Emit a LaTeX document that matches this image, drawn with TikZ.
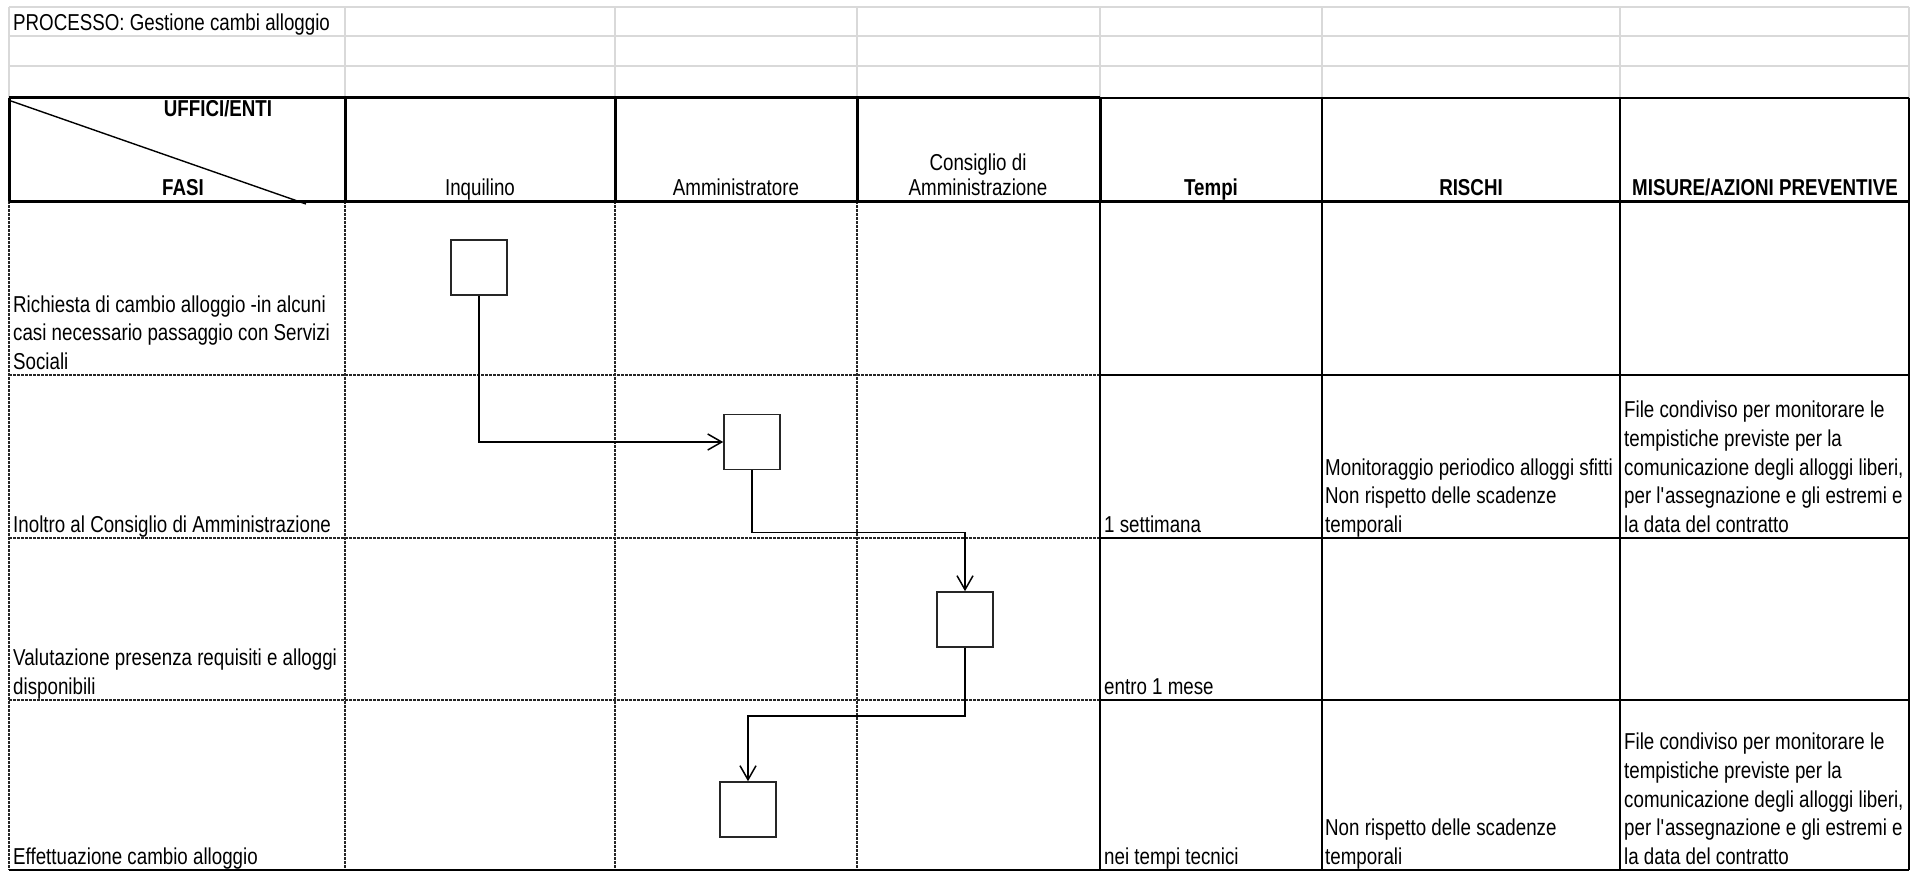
\documentclass[tikz,border=0pt]{standalone}
\usepackage{fontspec}
\setmainfont{Liberation Sans}[FakeStretch=0.815]
\usetikzlibrary{arrows.meta}
\newcommand\cf{\fontsize{23}{28.7}\selectfont}
\newcommand\ml[1]{\begin{tabular}[b]{@{}l@{}}#1\end{tabular}}
\begin{document}
\begin{tikzpicture}[x=1pt,y=-1pt,
  gridg/.style={draw=black!15, line width=2pt},
  thickln/.style={draw=black, line width=3pt},
  medln/.style={draw=black, line width=2pt},
  dashln/.style={draw=black!85, line width=1.2pt, dash pattern=on 2.5pt off 1.5pt},
  celltxt/.style={anchor=base west, inner sep=0pt, font=\cf},
  hdrtxt/.style={anchor=base, inner sep=0pt, font=\cf},
  hdrbold/.style={anchor=base, inner sep=0pt, font=\cf\bfseries},
  boxst/.style={draw=black!85, line width=1.6pt, fill=white, minimum width=56pt, minimum height=55pt, inner sep=0pt},
  arr/.style={draw=black, line width=1.5pt, -{Straight Barb[length=14pt,width=16pt]}}
]
\useasboundingbox (0,0) rectangle (1923,872);
\fill[white] (0,0) rectangle (1923,872);

% top gray grid
\foreach \yy in {7,36,66} {\draw[gridg] (9,\yy) -- (1909,\yy);}
\foreach \xx in {9,345,615,857,1100,1322,1620,1909} {\draw[gridg] (\xx,7) -- (\xx,98);}

% data grid (dashed part)
\foreach \xx in {9,345,615,857} {\draw[dashln] (\xx,201) -- (\xx,870);}
\foreach \yy in {375,538,700} {\draw[dashln] (9,\yy) -- (1100,\yy);}
% data grid (solid part)
\foreach \xx in {1100,1322,1620,1909} {\draw[medln] (\xx,201) -- (\xx,870);}
\foreach \yy in {375,538,700} {\draw[medln] (1100,\yy) -- (1909,\yy);}
\draw[medln] (9,870) -- (1909,870);

% header
\draw[thickln] (9,98) -- (1100,98);
\draw[medln] (1100,98) -- (1909,98);
\foreach \xx in {9,345,615,857,1100} {\draw[thickln] (\xx,98) -- (\xx,201);}
\foreach \xx in {1322,1620,1909} {\draw[medln] (\xx,98) -- (\xx,201);}
\draw[thickln] (9,201) -- (1909,201);
\draw[line width=1.4pt] (11,101) -- (306,204);

% texts
\node[celltxt] (title) at (13,31) {PROCESSO: Gestione cambi alloggio};
\begin{scope}
  \clip (9,101) rectangle (345,199);
  \node[hdrbold] (huff) at (218,117) {UFFICI/ENTI};
\end{scope}
\node[hdrbold] (hfasi) at (183,196) {FASI};
\node[hdrtxt] (hinq) at (480,196) {Inquilino};
\node[hdrtxt] (hamm) at (736,196) {Amministratore};
\node[hdrtxt] (hcda1) at (978,171) {Consiglio di};
\node[hdrtxt] (hcda2) at (978,196) {Amministrazione};
\node[hdrbold] (htempi) at (1211,196) {Tempi};
\node[hdrbold] (hrischi) at (1471,196) {RISCHI};
\node[hdrbold] (hmisure) at (1765,196) {MISURE/AZIONI PREVENTIVE};

\node[celltxt] (f1) at (13,369.5) {\ml{Richiesta di cambio alloggio -in alcuni\\casi necessario passaggio con Servizi\\Sociali}};
\node[celltxt] (f2) at (13,532.5) {Inoltro al Consiglio di Amministrazione};
\node[celltxt] (f3) at (13,694.5) {\ml{Valutazione presenza requisiti e alloggi\\disponibili}};
\node[celltxt] (f4) at (13,864.5) {Effettuazione cambio alloggio};

\node[celltxt] (t2) at (1104,532.5) {1 settimana};
\node[celltxt] (t3) at (1104,694.5) {entro 1 mese};
\node[celltxt] (t4) at (1104,864.5) {nei tempi tecnici};

\node[celltxt] (r2) at (1325,532.5) {\ml{Monitoraggio periodico alloggi sfitti\\Non rispetto delle scadenze\\temporali}};
\node[celltxt] (r4) at (1325,864.5) {\ml{Non rispetto delle scadenze\\temporali}};

\node[celltxt] (m2) at (1624,532.5) {\ml{File condiviso per monitorare le\\tempistiche previste per la\\comunicazione degli alloggi liberi,\\per l\textquotesingle assegnazione e gli estremi e\\la data del contratto}};
\node[celltxt] (m4) at (1624,864.5) {\ml{File condiviso per monitorare le\\tempistiche previste per la\\comunicazione degli alloggi liberi,\\per l\textquotesingle assegnazione e gli estremi e\\la data del contratto}};

% flow boxes
\node[boxst] (b1) at (479,267.5) {};
\node[boxst] (b2) at (752,442) {};
\node[boxst] (b3) at (965,619.5) {};
\node[boxst] (b4) at (748,809.5) {};

% connectors
\draw[arr] (b1.south) |- (b2.west);
\draw[arr] (b2.south) -- ++(0,62) -| (b3.north);
\draw[arr] (b3.south) -- ++(0,68) -| (b4.north);
\end{tikzpicture}
\end{document}
